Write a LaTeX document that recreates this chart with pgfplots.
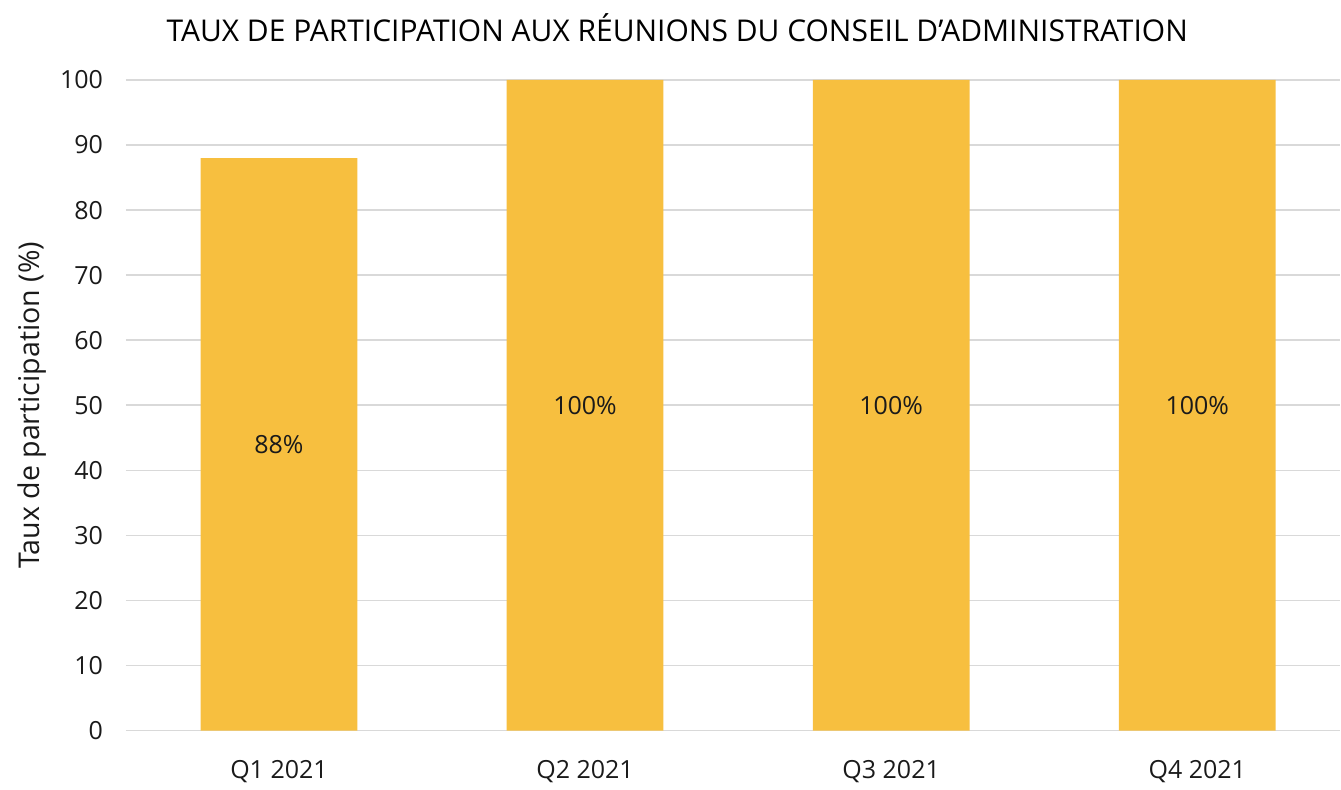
\documentclass[border=0pt]{standalone}
\usepackage{fontspec}
\setmainfont{Open Sans}
\usepackage{pgfplots}
\pgfplotsset{compat=1.18}
\definecolor{barcol}{HTML}{F7BF3F}
\definecolor{gridcol}{HTML}{D9D9D9}
\definecolor{txt}{HTML}{1A1A1A}
\begin{document}
\begin{tikzpicture}
\begin{axis}[
  scale only axis,
  width=607.5pt, height=325.5pt,
  ybar, bar width=0.512,
  xmin=-0.5, xmax=3.467,
  ymin=0, ymax=100,
  ytick={0,10,...,100},
  xtick=data,
  xticklabels={Q1 2021,Q2 2021,Q3 2021,Q4 2021},
  ymajorgrids,
  major grid style={gridcol, line width=0.8pt},
  axis line style={draw=none},
  major tick style={draw=none},
  /pgf/number format/assume math mode=true,
  tick label style={font=\fontsize{12.5}{14}\selectfont, text=txt},
  yticklabel style={xshift=-8pt},
  xticklabel style={yshift=-7pt},
  ylabel={Taux de participation (\%)},
  ylabel style={at={(axis description cs:-0.0774,0.5)}, anchor=center, font=\fontsize{14.3}{16}\selectfont, text=txt},
  visualization depends on=y \as \rawy,
  nodes near coords={\pgfmathprintnumber{\pgfplotspointmeta}\%},
  nodes near coords style={anchor=center, font=\fontsize{12.5}{14}\selectfont, text=txt, shift={(axis direction cs:0,-\rawy/2)}},
  clip=false,
]
\addplot[fill=barcol, draw=none] coordinates {(0,88) (1,100) (2,100) (3,100)};
\node[anchor=base, font=\fontsize{15}{18}\selectfont, text=black] at (rel axis cs:0.454,1) [yshift=19pt] {TAUX DE PARTICIPATION AUX RÉUNIONS DU CONSEIL D’ADMINISTRATION};
\path (axis description cs:-0.1037,0.5);
\path ([yshift=40pt]axis description cs:0,1);
\path ([yshift=-27.5pt]axis description cs:0,0);
\end{axis}
\end{tikzpicture}
\end{document}
